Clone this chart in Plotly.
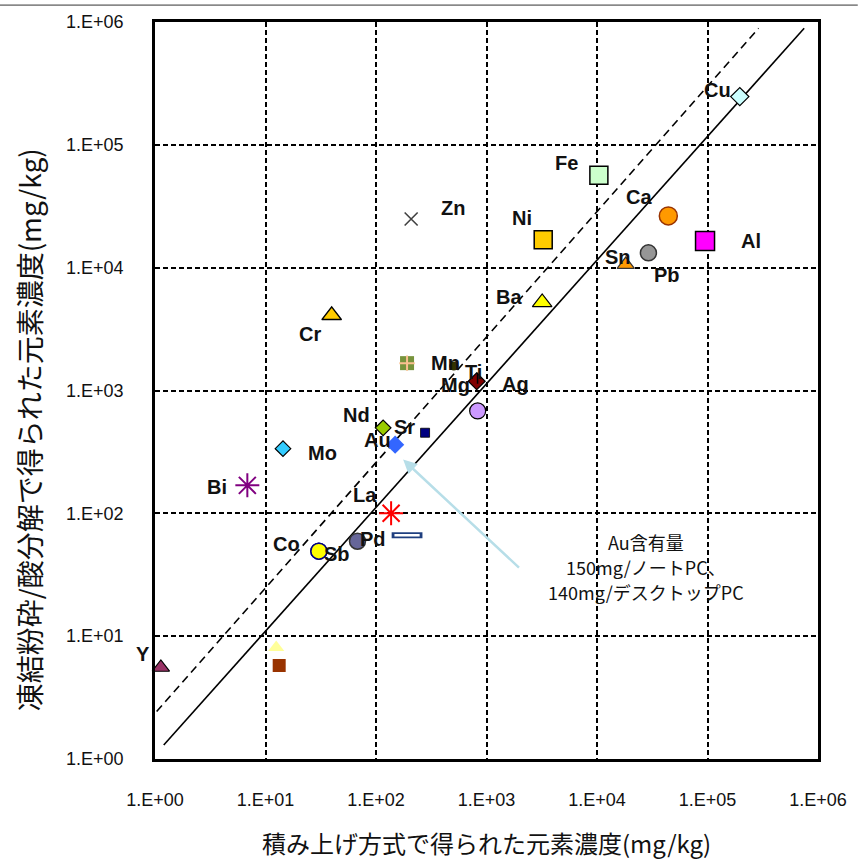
import math
import plotly.graph_objects as go

# Element concentrations (mg/kg): stacked calculation vs. freeze-grinding / acid digestion
elements = ["Cu", "Fe", "Zn", "Ca", "Ni", "Al", "Pb", "Sn", "Ba", "Cr",
            "unlabeled_1", "Mn", "Mg", "Ti", "Ag", "Nd", "Sr", "Au", "Mo", "Bi",
            "La", "Pd", "unlabeled_2", "Co", "Sb", "Y", "unlabeled_3", "unlabeled_4"]
stacked_conc = [1.96e5, 1.04e4, 208, 4.42e4, 3.26e3, 9.5e4, 2.92e4, 1.82e4, 3.19e3, 39.7,
                191, 506, 815, 830, 832, 116, 278, 149, 14.4, 6.85,
                137, 68, 191, 30.4, 30.4, 1.13, 12.5, 13.3]
measured_conc = [2.47e5, 5.66e4, 2.49e4, 2.64e4, 1.69e4, 1.65e4, 1.32e4, 1.06e4, 5.21e3, 4.09e3,
                 1.67e3, 1.58e3, 1.19e3, 1.26e3, 682, 497, 453, 362, 336, 169,
                 100, 59.3, 66.3, 49.2, 49.2, 5.56, 8.07, 5.77]

# Reference lines: 1:1 (solid) and upper bound (dashed)
line_1to1_x = [1.2, 7.5e5]
line_1to1_y = [1.3, 8.9e5]
line_upper_x = [0.865, 2.9e5]
line_upper_y = [2.03, 8.9e5]

tick_vals = [1, 10, 100, 1e3, 1e4, 1e5, 1e6]
tick_text = ["1.E+00", "1.E+01", "1.E+02", "1.E+03", "1.E+04", "1.E+05", "1.E+06"]

x_title = "積み上げ方式で得られた元素濃度(mg/kg)"
y_title = "凍結粉砕/酸分解で得られた元素濃度(mg/kg)"
note_lines = ["Au含有量", "150mg/ノートPC、", "140mg/デスクトップPC"]

# Marker styles: (symbol, size, fill, line colour, line width)
STYLES = {
    "Cu": ("diamond", 14, "#CCFFFF", "#000000", 1.2),
    "Fe": ("square", 18, "#CCFFCC", "#000000", 1.5),
    "Zn": ("x-thin", 13, "#404040", "#404040", 1.6),
    "Ca": ("circle", 18, "#FF9900", "#993300", 1.5),
    "Ni": ("square", 18, "#FFCC00", "#000000", 1.5),
    "Al": ("square", 19, "#FF00FF", "#000000", 1.5),
    "Pb": ("circle", 16, "#969696", "#333333", 1.5),
    "Sn": ("triangle-up", 15, "#FF9900", "#333333", 1.2),
    "Ba": ("triangle-up", 17, "#FFFF00", "#000000", 1.2),
    "Cr": ("triangle-up", 17, "#FFCC00", "#000000", 1.5),
    "unlabeled_1": ("square", 14, "#77933C", "#77933C", 0),
    "Mn": ("circle", 9, "#333300", "#333300", 0),
    "Mg": ("diamond", 13, "#800000", "#000000", 1.2),
    "Ti": ("line-ns", 8, "#000000", "#000000", 1.5),
    "Ag": ("circle", 16, "#CC99FF", "#000000", 1.2),
    "Nd": ("diamond", 12, "#99CC00", "#000000", 1.2),
    "Sr": ("square", 9, "#000080", "#000000", 0.8),
    "Au": ("diamond", 14, "#3366FF", "#3366FF", 0),
    "Mo": ("diamond", 12, "#33CCFF", "#000000", 1.2),
    "Bi": ("asterisk-open", 20, "#800080", "#800080", 2),
    "La": ("asterisk-open", 20, "#FF0000", "#FF0000", 2),
    "Pd": ("circle", 16, "#666699", "#333333", 1.5),
    "unlabeled_2": ("line-ew", 22, "#1F3F7F", "#1F3F7F", 6),
    "Co": ("circle", 16, "#FFFF00", "#000080", 1.5),
    "Sb": ("circle", 16, "#FFFF00", "#000080", 1.5),
    "Y": ("triangle-up", 15, "#993366", "#000000", 1.2),
    "unlabeled_3": ("triangle-up", 14, "#FFFF99", "#FFFF99", 0),
    "unlabeled_4": ("square", 13, "#993300", "#993300", 0),
}

# Label offsets in pixels (dx right, dy up) from each marker
LABEL_SHIFT = {
    "Cu": (-22, 7), "Fe": (-32, 12), "Zn": (42, 11), "Ca": (-29, 19), "Ni": (-21, 22),
    "Al": (46, 0), "Pb": (19, -22), "Sn": (-8, 8), "Ba": (-33, 5), "Cr": (-22, -19),
    "Mn": (-8, 3), "Mg": (-21, -4), "Ti": (-4, 6), "Ag": (38, 27), "Nd": (-27, 13),
    "Sr": (-21, 6), "Au": (-18, 5), "Mo": (39, -4), "Bi": (-30, -2), "La": (-26, 18),
    "Pd": (16, 2), "Co": (-32, 7), "Sb": (18, -3), "Y": (-18, 13),
}

fig = go.Figure()

fig.add_trace(go.Scatter(x=line_1to1_x, y=line_1to1_y, mode="lines",
                         line=dict(color="black", width=1.6), hoverinfo="skip"))
fig.add_trace(go.Scatter(x=line_upper_x, y=line_upper_y, mode="lines",
                         line=dict(color="black", width=1.6, dash="8px,5px"), hoverinfo="skip"))

annotations = []
for name, xv, yv in zip(elements, stacked_conc, measured_conc):
    sym, size, fill, lc, lw = STYLES[name]
    fig.add_trace(go.Scatter(
        x=[xv], y=[yv], mode="markers", name=name, cliponaxis=False,
        marker=dict(symbol=sym, size=size, color=fill,
                    line=dict(color=lc, width=lw)),
    ))
    if name == "unlabeled_1":
        # peach cross drawn over the olive square
        fig.add_trace(go.Scatter(x=[xv], y=[yv], mode="markers", cliponaxis=False,
                                 marker=dict(symbol="cross-thin", size=11,
                                             line=dict(color="#FAC090", width=2))))
    if name == "unlabeled_2":
        # white centre of the flat bar marker
        fig.add_trace(go.Scatter(x=[xv], y=[yv], mode="markers", cliponaxis=False,
                                 marker=dict(symbol="line-ew", size=18,
                                             line=dict(color="#FFFFFF", width=2.5))))
    if name in LABEL_SHIFT:
        dx, dy = LABEL_SHIFT[name]
        annotations.append(dict(
            x=math.log10(xv), y=math.log10(yv), xref="x", yref="y",
            xanchor="center", yanchor="middle",
            text=f"<b>{name}</b>", showarrow=False, xshift=dx, yshift=dy,
            font=dict(family="Liberation Sans, Arial", size=20, color="#111111"),
        ))

# Arrow pointing at the Au marker, with the note about gold content per PC
annotations.append(dict(
    x=math.log10(176), y=math.log10(274), xref="x", yref="y",
    ax=math.log10(2030), ay=math.log10(35.2), axref="x", ayref="y",
    text="", showarrow=True, arrowhead=2, arrowsize=1.1, arrowwidth=2.5,
    arrowcolor="#B7DEE8", standoff=0,
))
for i, line in enumerate(note_lines):
    annotations.append(dict(
        x=0.741, y=0.295 - i * 0.034, xref="paper", yref="paper", text=line,
        showarrow=False, xanchor="center", yanchor="middle",
        font=dict(family="Noto Sans CJK JP", size=18, color="#111111"),
    ))

# Axis titles
annotations.append(dict(
    x=0.5, y=-0.113, xref="paper", yref="paper", text=x_title, showarrow=False,
    xanchor="center", yanchor="middle",
    font=dict(family="Noto Sans CJK JP", size=24, color="#111111"),
))
annotations.append(dict(
    x=-0.19, y=0.446, xref="paper", yref="paper", text=y_title, showarrow=False,
    xanchor="center", yanchor="middle",
    textangle=-90, font=dict(family="Noto Sans CJK JP", size=28, color="#111111"),
))

axis_common = dict(
    type="log", tickvals=tick_vals, ticktext=tick_text,
    showgrid=True, gridcolor="black", gridwidth=1.5, griddash="5px,3px",
    showline=True, linecolor="black", linewidth=2.5, mirror=True,
    zeroline=False, ticks="",
    tickfont=dict(family="Liberation Sans, Arial", size=18, color="#111111"),
)

fig.update_layout(
    width=859, height=862, autosize=False,
    margin=dict(l=155, r=36, t=18, b=103),
    paper_bgcolor="white", plot_bgcolor="white",
    showlegend=False,
    xaxis=dict(range=[0, 6], ticklabelstandoff=23, **axis_common),
    yaxis=dict(range=[0, 6], ticklabelstandoff=25, **axis_common),
    annotations=annotations,
    shapes=[dict(type="line", xref="paper", yref="paper", x0=-0.25, x1=1.06,
                 y0=1 + 17 / 741, y1=1 + 17 / 741,
                 line=dict(color="#333333", width=1))],
)

fig.write_html("out.html")
